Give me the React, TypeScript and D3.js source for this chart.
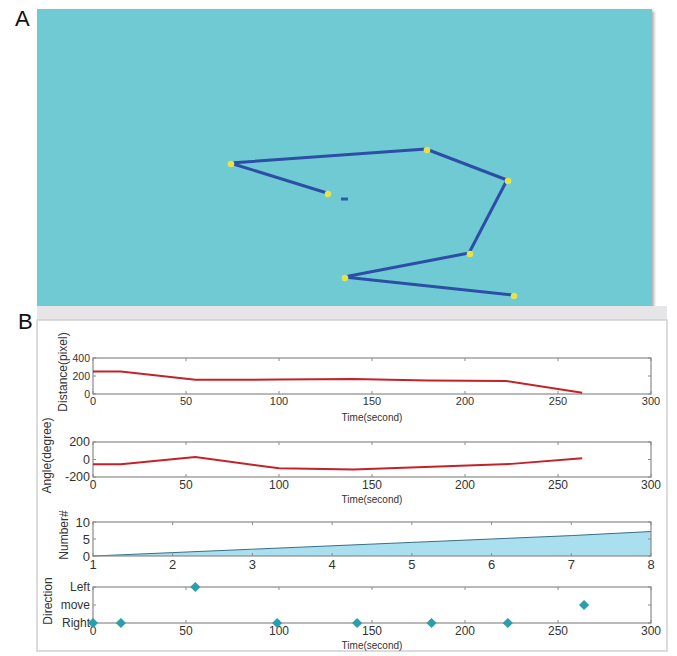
import React from "react";
import * as d3 from "d3";

// Panel A trajectory (frame coordinates)
const trajX = [290, 193, 389, 470, 432, 307, 476];
const trajY = [184, 154, 140, 171, 244, 268, 286];
const markX = [307];
const markY = [190];

// Distance vs time
const distT = [0, 15, 55, 100, 140, 180, 222, 263];
const distV = [250, 250, 158, 160, 168, 150, 145, 15];
// Angle vs time
const angT = [0, 15, 55, 100, 140, 225, 263];
const angV = [-55, -55, 28, -100, -115, -50, 15];
// Number# vs index
const numX = [1, 2, 3, 4, 5, 6, 7, 8];
const numV = [0, 1, 2, 3, 4, 5, 6, 7.2];
// Direction events
const dirT = [0, 15, 55, 99, 142, 182, 223, 264];
const dirV = [0, 0, 2, 0, 0, 0, 0, 1];
const dirLabels = ["Right", "move", "Left"];

const timeTicks = [0, 50, 100, 150, 200, 250, 300];
const distTicks = [0, 200, 400];
const angTicks = [-200, 0, 200];
const numXTicks = [1, 2, 3, 4, 5, 6, 7, 8];
const numYTicks = [0, 5, 10];
const dirTicks = [0, 1, 2];

const FONT = "'Liberation Sans', Arial, sans-serif";
const AX = "#8a8a8a";

const X0 = 93, X1 = 651;

function Box({ x, y0, y1, xTicks, yTicks, yFmt, xFont, yFont, ys, tLabelY, ylabel, ylabelX, showTime, tFont }: any) {
  const top = y0, bot = y1;
  return (
    <g>
      <rect x={X0} y={top} width={X1 - X0} height={bot - top} fill="none" stroke={AX} strokeWidth={1.2} />
      {xTicks.map((t: number, i: number) => (
        <g key={"x" + i}>
          <line x1={x(t)} x2={x(t)} y1={bot} y2={bot - 3} stroke={AX} />
          <line x1={x(t)} x2={x(t)} y1={top} y2={top + 3} stroke={AX} />
          <text x={x(t)} y={bot + 3} dy="0.75em" textAnchor="middle" fontSize={xFont} fontFamily={FONT} fill="#333">{t}</text>
        </g>
      ))}
      {yTicks.map((t: number, i: number) => (
        <g key={"y" + i}>
          <line x1={X0} x2={X0 + 3} y1={ys(t)} y2={ys(t)} stroke={AX} />
          <line x1={X1} x2={X1 - 3} y1={ys(t)} y2={ys(t)} stroke={AX} />
          <text x={X0 - 3} y={ys(t)} dy="0.35em" textAnchor="end" fontSize={yFont} fontFamily={FONT} fill="#333">{yFmt(t)}</text>
        </g>
      ))}
      {showTime && (
        <text x={372} y={tLabelY} textAnchor="middle" fontSize={tFont} fontFamily={FONT} fill="#333">Time(second)</text>
      )}
      <text transform={`translate(${ylabelX},${(top + bot) / 2 - 4}) rotate(-90)`} textAnchor="middle" fontSize={12} fontFamily={FONT} fill="#333">{ylabel}</text>
    </g>
  );
}

export default function App() {
  // Panel A
  const ax = d3.scaleLinear().domain([0, 615]).range([37, 652]);
  const ay = d3.scaleLinear().domain([0, 297]).range([9, 306]);
  const traj = trajX.map((v, i) => [ax(v), ay(trajY[i])] as [number, number]);
  const trajLine = d3.line()(traj) || "";

  const tx = d3.scaleLinear().domain([0, 300]).range([X0, X1]);
  const nx = d3.scaleLinear().domain([1, 8]).range([X0, X1]);

  const s1 = d3.scaleLinear().domain([0, 400]).range([394, 358]);
  const s2 = d3.scaleLinear().domain([-200, 200]).range([477, 442]);
  const s3 = d3.scaleLinear().domain([0, 10]).range([556, 522]);
  const s4 = d3.scaleLinear().domain([0, 2]).range([623, 587]);

  const distPath = d3.line<number>().x((_, i) => tx(distT[i])).y((v) => s1(v))(distV) || "";
  const angPath = d3.line<number>().x((_, i) => tx(angT[i])).y((v) => s2(v))(angV) || "";
  const numArea = d3.area<number>().x((_, i) => nx(numX[i])).y0(s3(0)).y1((v) => s3(v))(numV) || "";
  const numLine = d3.line<number>().x((_, i) => nx(numX[i])).y((v) => s3(v))(numV) || "";
  const diamond = d3.symbol().type(d3.symbolSquare).size(52)() || "";

  return (
    <svg width={677} height={656} style={{ position: "absolute", left: 0, top: 0 }}>
      <defs>
        <filter id="sh" x="-5%" y="-5%" width="110%" height="110%">
          <feDropShadow dx="2" dy="2" stdDeviation="1.5" floodColor="#777" floodOpacity="0.6" />
        </filter>
      </defs>
      <rect width={677} height={656} fill="#fff" />
      {/* Panel A */}
      <text x={15} y={26} fontSize={22} fontFamily={FONT} fill="#111">A</text>
      <rect x={37} y={9} width={615} height={297} fill="#70cad3" filter="url(#sh)" />
      <path d={trajLine} fill="none" stroke="#2d4ea6" strokeWidth={3} strokeLinejoin="round" />
      {traj.map((p, i) => (
        <circle key={i} cx={p[0] + 1} cy={p[1] + 1} r={3.3} fill="#e6e24a" />
      ))}
      {markX.map((v, i) => (
        <rect key={i} x={ax(v) - 3} y={ay(markY[i]) - 1.5} width={7} height={3} fill="#2a5fa8" />
      ))}

      {/* Panel B frame */}
      <rect x={37} y={306} width={630} height={14} fill="#e6e6e9" />
      <rect x={37} y={320} width={630} height={331} fill="#fff" stroke="#d0d0d0" strokeWidth={1.5} />
      <text x={18} y={329} fontSize={22} fontFamily={FONT} fill="#111">B</text>

      {/* Distance */}
      <Box x={tx} y0={358} y1={394} xTicks={timeTicks} yTicks={distTicks} yFmt={(d: number) => d} xFont={11} yFont={10.5} ys={s1} tLabelY={421} ylabel="Distance(pixel)" ylabelX={67} showTime tFont={10} />
      <path d={distPath} fill="none" stroke="#c3222b" strokeWidth={2} />

      {/* Angle */}
      <Box x={tx} y0={442} y1={477} xTicks={timeTicks} yTicks={angTicks} yFmt={(d: number) => d} xFont={12} yFont={12.5} ys={s2} tLabelY={503} ylabel="Angle(degree)" ylabelX={51} showTime tFont={10} />
      <path d={angPath} fill="none" stroke="#c3222b" strokeWidth={2} />

      {/* Number */}
      <path d={numArea} fill="#aadff0" />
      <path d={numLine} fill="none" stroke="#3a6f86" strokeWidth={1} />
      <Box x={nx} y0={522} y1={556} xTicks={numXTicks} yTicks={numYTicks} yFmt={(d: number) => d} xFont={13} yFont={13} ys={s3} tLabelY={0} ylabel="Number#" ylabelX={68} showTime={false} tFont={10} />

      {/* Direction */}
      <Box x={tx} y0={587} y1={623} xTicks={timeTicks} yTicks={dirTicks} yFmt={(d: number) => dirLabels[d]} xFont={12} yFont={12} ys={s4} tLabelY={649} ylabel="Direction" ylabelX={52} showTime tFont={10} />
      {dirT.map((t, i) => (
        <path key={i} d={diamond} transform={`translate(${tx(t)},${s4(dirV[i])}) rotate(45)`} fill="#2a9fab" />
      ))}
    </svg>
  );
}
